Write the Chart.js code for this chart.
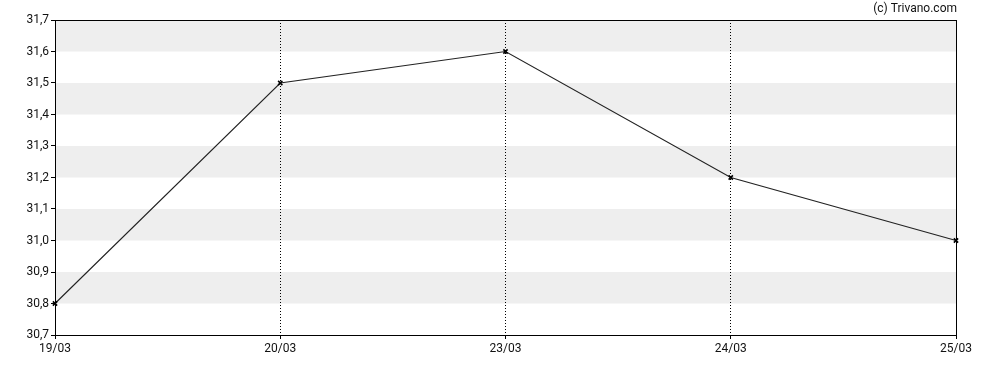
<!DOCTYPE html>
<html>
<head>
<meta charset="utf-8">
<script src="https://cdn.jsdelivr.net/npm/chart.js@4"></script>
<style>
html,body{margin:0;padding:0;background:#fff;}
#wrap{width:988px;height:370px;position:relative;}
</style>
</head>
<body>
<div id="wrap"><canvas id="c" width="988" height="370"></canvas></div>
<script>
const categories = ['19/03', '20/03', '23/03', '24/03', '25/03'];
const prices = [30.8, 31.5, 31.6, 31.2, 31.0];
const yMin = 30.7;
const yMax = 31.7;
const yStep = 0.1;
const watermark = '(c) Trivano.com';

const FONT = {family: 'Roboto', size: 12};

const bandsPlugin = {
  id: 'bands',
  beforeDraw(chart) {
    const {ctx, chartArea, scales} = chart;
    const y = scales.y;
    const ticks = y.ticks.map(t => t.value).sort((a, b) => a - b);
    ctx.save();
    ctx.fillStyle = '#eeeeee';
    for (let i = 0; i < ticks.length - 1; i++) {
      if (i % 2 === 1) {
        const top = y.getPixelForValue(ticks[i + 1]);
        const bot = y.getPixelForValue(ticks[i]);
        ctx.fillRect(chartArea.left, top, chartArea.right - chartArea.left, bot - top);
      }
    }
    ctx.restore();
  },
  afterDraw(chart) {
    const {ctx, chartArea} = chart;
    ctx.save();
    ctx.strokeStyle = '#000';
    ctx.lineWidth = 1;
    ctx.beginPath();
    ctx.moveTo(chartArea.left, chartArea.top + 0.5);
    ctx.lineTo(chartArea.right + 0.5, chartArea.top + 0.5);
    ctx.lineTo(chartArea.right + 0.5, chartArea.bottom);
    ctx.stroke();
    ctx.fillStyle = '#111';
    ctx.font = '12px Roboto';
    ctx.textAlign = 'right';
    ctx.textBaseline = 'middle';
    ctx.fillText(watermark, chartArea.right + 1, 9);
    ctx.restore();
  }
};

new Chart(document.getElementById('c'), {
  type: 'line',
  data: {
    labels: categories,
    datasets: [{
      data: prices,
      borderColor: '#222222',
      borderWidth: 1.1,
      tension: 0,
      fill: false,
      pointStyle: 'crossRot',
      pointRadius: 3,
      pointBorderColor: '#000',
      pointBorderWidth: 1.6,
      clip: false
    }]
  },
  options: {
    responsive: false,
    animation: false,
    devicePixelRatio: 1,
    layout: {padding: {top: 20, right: 32, left: 0, bottom: 0}},
    plugins: {legend: {display: false}, tooltip: {enabled: false}, title: {display: false}},
    scales: {
      x: {
        type: 'category',
        offset: false,
        afterFit(scale) { scale.height = 35; },
        border: {display: true, color: '#000', width: 1, dash: [1, 2]},
        grid: {
          display: true,
          drawOnChartArea: true,
          drawTicks: true,
          tickLength: 4,
          color: '#000',
          lineWidth: 1,
          tickBorderDash: [],
          tickColor: '#000'
        },
        ticks: {color: '#111', font: FONT, padding: 3, maxRotation: 0, autoSkip: false}
      },
      y: {
        min: yMin,
        max: yMax,
        afterFit(scale) { scale.width = 55; },
        border: {display: true, color: '#000', width: 1},
        grid: {display: true, drawOnChartArea: false, drawTicks: true, tickLength: 4, tickColor: '#000'},
        ticks: {
          stepSize: yStep,
          color: '#111',
          font: FONT,
          padding: 2,
          callback: v => v.toFixed(1).replace('.', ',')
        }
      }
    }
  },
  plugins: [bandsPlugin]
});
</script>
</body>
</html>
